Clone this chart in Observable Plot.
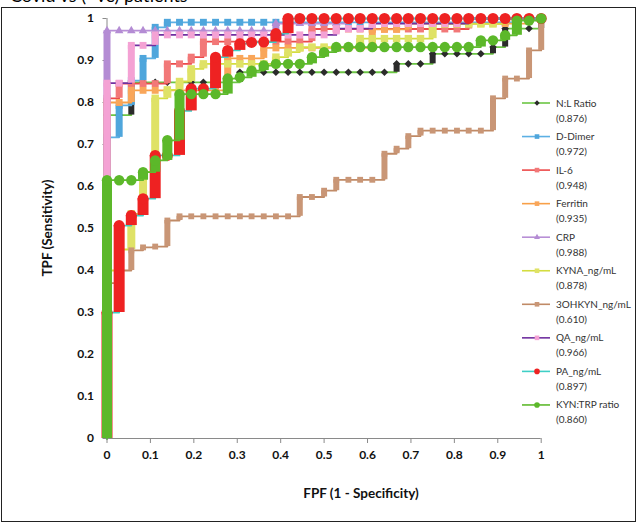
<!DOCTYPE html>
<html><head><meta charset="utf-8">
<script src="https://cdn.jsdelivr.net/npm/d3@7"></script>
<script src="https://cdn.jsdelivr.net/npm/@observablehq/plot@0.6"></script>
<style>
body{margin:0;background:#fff;}
#chart{position:relative;width:638px;height:526px;overflow:hidden;}
</style></head><body><div id="chart"></div>
<script>
// False-positive fraction steps (one per negative case)
const fprSteps = [0,0.028,0.056,0.083,0.111,0.139,0.167,0.194,0.222,0.25,0.278,0.306,0.333,0.361,0.389,0.417,0.444,0.472,0.5,0.528,0.556,0.583,0.611,0.639,0.667,0.694,0.722,0.75,0.778,0.806,0.833,0.861,0.889,0.917,0.944,0.972,1];

const seriesNames = ["N:L Ratio","D-Dimer","IL-6","Ferritin","CRP","KYNA_ng/mL","3OHKYN_ng/mL","QA_ng/mL","PA_ng/mL","KYN:TRP ratio"];
const aucLabels = ["(0.876)","(0.972)","(0.948)","(0.935)","(0.988)","(0.878)","(0.610)","(0.966)","(0.897)","(0.860)"];

// True-positive fraction reached at each FPR step
const tprNL = [0.77,0.77,0.848,0.848,0.848,0.848,0.848,0.848,0.848,0.848,0.848,0.872,0.872,0.872,0.872,0.872,0.872,0.872,0.872,0.872,0.872,0.872,0.872,0.872,0.892,0.892,0.892,0.916,0.916,0.916,0.916,0.916,0.932,0.976,0.976,0.976,1];
const tprDDimer = [0.717,0.793,0.852,0.905,0.979,0.991,0.991,0.991,0.991,0.991,0.991,0.991,0.991,0.991,0.991,0.991,0.991,0.991,0.991,0.991,0.991,0.991,0.991,0.991,0.991,0.991,0.991,0.991,0.991,0.991,0.991,0.991,0.991,0.991,1,1,1];
const tprIL6 = [0.81,0.845,0.845,0.845,0.845,0.892,0.892,0.908,0.945,0.945,0.945,0.945,0.945,0.945,0.945,0.945,0.945,0.975,0.975,0.975,0.975,0.975,0.975,0.975,0.975,0.975,0.975,0.975,0.975,0.975,1,1,1,1,1,1,1];
const tprFerritin = [0.80,0.80,0.829,0.829,0.829,0.829,0.829,0.829,0.829,0.829,0.905,0.905,0.905,0.93,0.93,0.93,0.93,0.93,0.93,0.93,0.93,0.93,0.974,0.974,0.974,0.988,0.988,0.988,0.988,0.988,0.988,0.988,0.988,0.988,0.988,1,1];
const tprCRP = [0.971,0.971,0.971,0.971,0.971,0.971,0.971,0.971,0.971,0.971,0.971,0.971,0.971,0.971,0.988,0.988,0.988,0.988,0.988,0.988,1,1,1,1,1,1,1,1,1,1,1,1,1,1,1,1,1];
const tprKYNA = [0.40,0.45,0.535,0.634,0.81,0.83,0.85,0.88,0.892,0.892,0.892,0.892,0.892,0.892,0.908,0.92,0.932,0.932,0.932,0.932,0.932,0.952,0.952,0.952,0.952,0.952,0.952,0.987,0.987,0.987,0.987,0.987,0.987,1,1,1,1];
const tpr3OHKYN = [0.37,0.40,0.448,0.455,0.457,0.519,0.529,0.529,0.529,0.529,0.529,0.529,0.529,0.529,0.529,0.529,0.575,0.575,0.59,0.616,0.616,0.616,0.616,0.678,0.69,0.72,0.733,0.733,0.733,0.733,0.733,0.733,0.81,0.857,0.857,0.924,1];
const tprQA = [0.846,0.846,0.936,0.936,0.961,0.961,0.961,0.961,0.961,0.961,0.961,0.961,0.961,0.961,0.961,0.961,0.961,0.961,0.961,0.976,0.976,0.976,0.988,0.988,0.988,0.988,0.988,0.988,0.988,0.988,1,1,1,1,1,1,1];
const tprPA = [0.30,0.507,0.531,0.571,0.674,0.674,0.78,0.833,0.833,0.908,0.924,0.94,0.943,0.944,0.964,1,1,1,1,1,1,1,1,1,1,1,1,1,1,1,1,1,1,1,1,1,1];
const tprKYNTRP = [0.615,0.615,0.615,0.634,0.662,0.71,0.82,0.82,0.82,0.82,0.857,0.86,0.876,0.888,0.892,0.892,0.892,0.908,0.92,0.932,0.932,0.932,0.932,0.932,0.932,0.932,0.932,0.932,0.932,0.932,0.932,0.948,0.948,0.96,0.995,0.995,1];

const xTicks = [0,0.1,0.2,0.3,0.4,0.5,0.6,0.7,0.8,0.9,1];
const yTicks = [0,0.1,0.2,0.3,0.4,0.5,0.6,0.7,0.8,0.9,1];

const tprs = [tprNL,tprDDimer,tprIL6,tprFerritin,tprCRP,tprKYNA,tpr3OHKYN,tprQA,tprPA,tprKYNTRP];
const styles = [
  {line:"#6cc644", fill:"#2b2b2b", symbol:"diamond2", r:3.4, w:6, lr:2.4},
  {line:"#5cb0e4", fill:"#4fa6dc", symbol:"square", r:3.9, w:7, lr:2.6},
  {line:"#ec4a4a", fill:"#f27878", symbol:"square", r:3.9, w:7, lr:2.6},
  {line:"#f8a048", fill:"#f9a65a", symbol:"square", r:3.9, w:7, lr:2.6},
  {line:"#b88fd6", fill:"#b48cd4", symbol:"triangle", r:3.2, w:7, lr:2.2},
  {line:"#d4dd40", fill:"#dfe266", symbol:"square", r:4.2, w:8, lr:2.6},
  {line:"#c08a66", fill:"#c99676", symbol:"square", r:3.3, w:6, lr:2.6},
  {line:"#7030a0", fill:"#f4a2d4", symbol:"square", r:3.9, w:7, lr:2.6},
  {line:"#3fcfc6", fill:"#ee2222", symbol:"circle", r:5.5, w:11, lr:2.8},
  {line:"#5fba2e", fill:"#5cb82a", symbol:"circle", r:5.2, w:10, lr:2.8}
];

const marks = [];
tprs.forEach((tpr, i) => {
  const s = styles[i];
  const pts = fprSteps.map((f, k) => ({fpr: f, tpr: tpr[k], prev: k === 0 ? 0 : tpr[k-1]}));
  const path = [{fpr: 0, tpr: 0}, ...pts];
  marks.push(Plot.line(path, {x: "fpr", y: "tpr", curve: "step-after", stroke: s.line, strokeWidth: 1.8}));
  marks.push(Plot.ruleX(pts.filter(d => d.tpr > d.prev), {x: "fpr", y1: "prev", y2: "tpr", stroke: s.fill, strokeWidth: s.w}));
  marks.push(Plot.dot(pts, {x: "fpr", y: "tpr", symbol: () => s.symbol, r: s.r, fill: s.fill, stroke: "none"}));
});

const chart = Plot.plot({
  width: 638, height: 526,
  marginLeft: 106.5, marginRight: 97.3, marginTop: 18, marginBottom: 88,
  style: {fontFamily: "Lato, 'Open Sans', sans-serif", fontSize: "12px", fontWeight: "bold", background: "#fff", color: "#000"},
  x: {domain: [0, 1]},
  y: {domain: [0, 1]},
  symbol: {type: "identity"},
  marks: [
    Plot.axisX({ticks: xTicks, tickSize: 5, tickPadding: 7, tickFormat: d => String(d), label: null, stroke: "#8a8a8a", fill: "#111"}),
    Plot.axisY({ticks: yTicks, tickSize: 4, tickPadding: 9, tickFormat: d => String(d), label: null, stroke: "#8a8a8a", fill: "#111"}),
    Plot.ruleY([0], {stroke: "#8a8a8a"}),
    Plot.ruleX([0], {stroke: "#8a8a8a"}),
    ...marks
  ]
});
document.getElementById("chart").appendChild(chart);

const svg = d3.select(chart);
svg.append("rect").attr("x", 1.5).attr("y", 7.5).attr("width", 634).attr("height", 514)
  .attr("fill", "none").attr("stroke", "#222").attr("stroke-width", 1);
svg.append("text").attr("x", 10).attr("y", 2).attr("text-anchor", "start").attr("font-size", 18).attr("font-weight", "normal")
  .attr("fill", "#000").text("Covid vs (+ve) patients");
svg.append("text").attr("x", 361).attr("y", 498).attr("text-anchor", "middle").attr("font-size", 13.5)
  .attr("fill", "#111").text("FPF (1 - Specificity)");
svg.append("text").attr("transform", "translate(52,228) rotate(-90)").attr("text-anchor", "middle")
  .attr("font-size", 13.5).attr("fill", "#111").text("TPF (Sensitivity)");

const lg = svg.append("g").attr("font-size", 10).attr("font-weight", "normal").attr("fill", "#333").attr("text-anchor", "start");
const symMap = {diamond2: d3.symbolDiamond2, square: d3.symbolSquare, triangle: d3.symbolTriangle, circle: d3.symbolCircle};
seriesNames.forEach((name, i) => {
  const s = styles[i];
  const y = 103 + i * 33.55;
  lg.append("line").attr("x1", 522).attr("x2", 550).attr("y1", y).attr("y2", y).attr("stroke", s.line).attr("stroke-width", 1.6);
  lg.append("path").attr("transform", `translate(537,${y})`)
    .attr("d", d3.symbol(symMap[s.symbol], Math.PI * s.lr * s.lr)()).attr("fill", s.fill);
  lg.append("text").attr("x", 556).attr("y", y + 3.5).text(name);
  lg.append("text").attr("x", 556).attr("y", y + 18.5).text(aucLabels[i]);
});
</script></body></html>
